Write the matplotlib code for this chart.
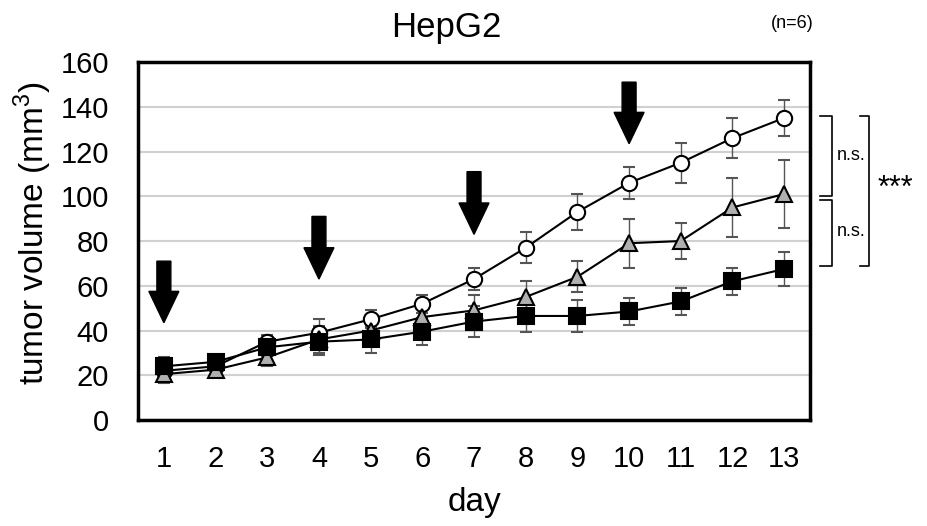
import numpy as np
import matplotlib.pyplot as plt

plt.rcParams['font.family'] = ['Liberation Sans', 'DejaVu Sans']
plt.rcParams['mathtext.fontset'] = 'custom'
plt.rcParams['mathtext.rm'] = 'Liberation Sans'

# data
days = np.arange(1, 14)
control = [22, 24, 35, 39, 45, 52, 63, 77, 93, 106, 115, 126, 135]
control_err = [4, 3, 3, 6, 4, 4, 5, 7, 8, 7, 9, 9, 8]
middle = [20.5, 22.5, 28, 36, 40, 46, 49, 55, 64, 79, 80, 95, 101]
middle_err = [4, 3, 4, 6, 5, 5, 7, 7, 7, 11, 8, 13, 15]
treated = [24, 26, 32.5, 35, 36, 39.5, 44, 46.5, 46.5, 48.5, 53, 62, 67.5]
treated_err = [4, 3, 4, 6, 6, 6, 7, 7, 7, 6, 6, 6, 7.5]

arrow_days = [1, 4, 7, 10]
arrow_top = [71, 91, 111, 151]
arrow_tip = [43.5, 63, 83, 123.5]

fig = plt.figure(figsize=(9.27, 5.26), dpi=100)
ax = fig.add_axes([0.1489, 0.2015, 0.7249, 0.6806])

ax.set_xlim(0.5, 13.5)
ax.set_ylim(0, 160)
ax.set_yticks(np.arange(0, 161, 20))
ax.set_xticks(days)
ax.yaxis.grid(True, color="#d0d0d0", lw=1.5)
ax.set_axisbelow(True)
for s in ax.spines.values():
	s.set_linewidth(2.5)
ax.tick_params(length=0, labelsize=21, pad=18)
ax.tick_params(axis="y", pad=21)

ekw = dict(ecolor="#555555", elinewidth=1, capsize=4, capthick=1, zorder=3)
ax.errorbar(days, control, yerr=control_err, color="black", lw=1.5,
	marker="o", ms=11, mfc="white", mec="black", mew=1.5, **ekw)
ax.errorbar(days, middle, yerr=middle_err, color="black", lw=1.5,
	marker="^", ms=12, mfc="#b0b0b0", mec="black", mew=1.5, **ekw)
ax.errorbar(days, treated, yerr=treated_err, color="black", lw=1.5,
	marker="s", ms=11, mfc="black", mec="black", mew=1.5, **ekw)

# dosing arrows
for d, t, b in zip(arrow_days, arrow_top, arrow_tip):
	ax.arrow(d, t, 0, b - t, width=0.27, head_width=0.58, head_length=14,
		length_includes_head=True, color="black", zorder=5)

ax.set_xlabel("day", fontsize=24, labelpad=10)
fig.text(0.036, 0.557, "tumor volume (mm$^3$)", fontsize=24, rotation=90,
	ha="center", va="center")

# significance brackets
tr = ax.get_yaxis_transform()
def bracket(x0, x1, y0, y1):
	ax.plot([x0, x1, x1, x0], [y0, y0, y1, y1], color="black", lw=1.2,
		transform=tr, clip_on=False)

bracket(1.015, 1.032, control[-1] + 1, middle[-1] - 0.8)
bracket(1.015, 1.032, middle[-1] - 2.5, treated[-1] + 1.5)
bracket(1.074, 1.088, control[-1] + 1, treated[-1] + 1.5)
ax.text(1.04, (control[-1] + middle[-1]) / 2, "n.s.", transform=tr, fontsize=13,
	va="center", ha="left")
ax.text(1.04, (middle[-1] + treated[-1]) / 2, "n.s.", transform=tr, fontsize=13,
	va="center", ha="left")
ax.text(1.1, (control[-1] + treated[-1]) / 2 + 2, "***", transform=tr, fontsize=22,
	va="center", ha="left")

fig.text(0.481, 0.948, "HepG2", fontsize=25, ha="center", va="center")
fig.text(0.855, 0.955, "(n=6)", fontsize=13, ha="center", va="center")

fig.savefig("out.png", dpi=100)
